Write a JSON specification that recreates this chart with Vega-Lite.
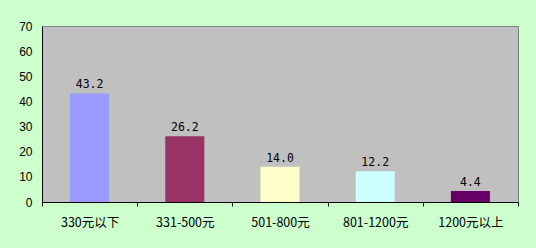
{
  "$schema": "https://vega.github.io/schema/vega-lite/v6.json",
  "width": 476,
  "height": 176,
  "autosize": {"type": "none"},
  "padding": {"left": 42, "top": 26, "right": 18, "bottom": 46},
  "background": "#CCFFCC",
  "config": {
    "view": {"fill": "#C0C0C0", "stroke": "#808080", "strokeWidth": 1},
    "axis": {"grid": false, "domainColor": "#000000", "tickColor": "#000000", "labelColor": "#000000"}
  },
  "data": {
    "values": [
      {"category": "330元以下", "value": 43.2, "color": "#9999FF"},
      {"category": "331-500元", "value": 26.2, "color": "#993366"},
      {"category": "501-800元", "value": 14.0, "color": "#FFFFCC"},
      {"category": "801-1200元", "value": 12.2, "color": "#CCFFFF"},
      {"category": "1200元以上", "value": 4.4, "color": "#660066"}
    ]
  },
  "encoding": {
    "x": {
      "field": "category",
      "type": "nominal",
      "sort": null,
      "scale": {"paddingInner": 0, "paddingOuter": 0},
      "axis": {
        "title": null,
        "labelAngle": 0,
        "tickBand": "extent",
        "tickSize": 4,
        "labelPadding": 10,
        "labelFont": "Noto Sans CJK SC",
        "labelFontSize": 12.5
      }
    },
    "y": {
      "field": "value",
      "type": "quantitative",
      "scale": {"domain": [0, 70], "nice": false},
      "axis": {
        "title": null,
        "values": [0, 10, 20, 30, 40, 50, 60, 70],
        "tickSize": 0,
        "labelPadding": 10,
        "labelFont": "Liberation Sans",
        "labelFontSize": 12
      }
    }
  },
  "layer": [
    {
      "mark": {"type": "bar", "width": {"band": 0.41}},
      "encoding": {
        "color": {"field": "color", "type": "nominal", "scale": null}
      }
    },
    {
      "mark": {"type": "text", "baseline": "bottom", "dy": -3, "font": "DejaVu Sans Mono", "fontSize": 11.5, "color": "#000000"},
      "encoding": {
        "text": {"field": "value", "type": "quantitative", "format": ".1f"}
      }
    }
  ]
}
